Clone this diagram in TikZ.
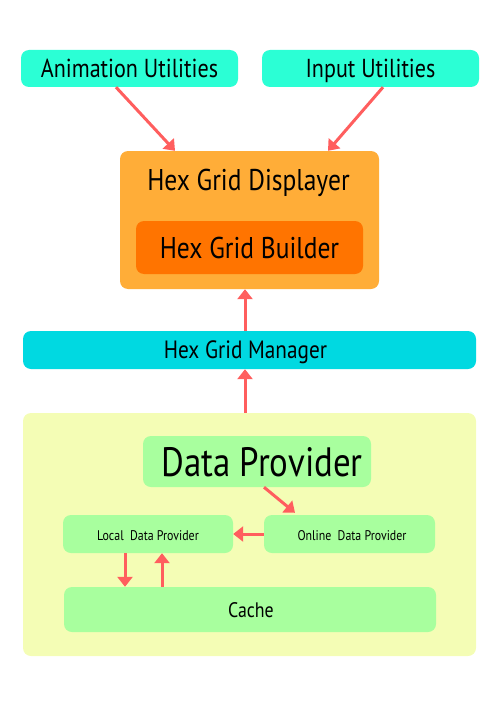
\documentclass[tikz,border=0pt]{standalone}
\usepackage{fontspec}
\setmainfont{PT Sans}[FakeStretch=0.85]
\usetikzlibrary{arrows.meta,calc}
\definecolor{turq}{HTML}{2BFFD5}
\definecolor{orangeL}{HTML}{FFAD38}
\definecolor{orangeD}{HTML}{FF7400}
\definecolor{cyanM}{HTML}{00D9E1}
\definecolor{yellowBg}{HTML}{F4FDB5}
\definecolor{greenBox}{HTML}{A8FF9E}
\definecolor{arrowRed}{HTML}{FF5E5E}
\tikzset{
  box/.style={rounded corners=8pt, inner sep=0pt, draw=none, align=center},
  conn/.style={draw=arrowRed, line width=3pt, -{Triangle[width=15pt,length=10pt]}},
  fs/.style={font=\fontsize{#1}{#1}\selectfont, text height=0.7*#1 pt, text depth=0pt},
}
\begin{document}
\begin{tikzpicture}[x=1pt,y=-1pt]
\useasboundingbox (0,0) rectangle (500,706);
% top utilities
\node[box, fill=turq, minimum width=217pt, minimum height=37pt, fs=26] (anim) at (129.5,68.5) {Animation Utilities};
\node[box, fill=turq, minimum width=217pt, minimum height=37pt, fs=26] (input) at (370.5,68.5) {Input Utilities};
% displayer
\node[box, fill=orangeL, minimum width=259pt, minimum height=138pt] (disp) at (249.5,220) {};
\node[fs=30, inner sep=0pt] (dispt) at (248.5,179.5) {Hex Grid Displayer};
\node[box, fill=orangeD, minimum width=227pt, minimum height=53pt, fs=30] (build) at (249.5,247.5) {Hex Grid Builder};
% manager
\node[box, fill=cyanM, minimum width=453pt, minimum height=38pt] (mgr) at (249.5,350) {};
\node[fs=25, inner sep=0pt] (mgrt) at (245.5,350) {Hex Grid Manager};
% data area
\node[box, fill=yellowBg, minimum width=453pt, minimum height=243pt] (dpbg) at (249.5,534.5) {};
\node[box, fill=greenBox, minimum width=228pt, minimum height=51pt] (dp) at (257,461.5) {};
\node[fs=41, inner sep=0pt] (dpt) at (262,461.7) {Data Provider};
\node[box, fill=greenBox, minimum width=170pt, minimum height=38pt] (local) at (148,534) {};
\node[fs=14, inner sep=0pt] (localt) at (148,535.5) {Local\ \ Data Provider};
\node[box, fill=greenBox, minimum width=171pt, minimum height=38pt] (online) at (349.5,534) {};
\node[fs=14, inner sep=0pt] (onlinet) at (352,535.5) {Online\ \ Data Provider};
\node[box, fill=greenBox, minimum width=372pt, minimum height=45pt] (cache) at (250,609.5) {};
\node[fs=21, inner sep=0pt] (cachet) at (251,610) {Cache};
% connectors
\draw[conn] ([xshift=-13.5pt]anim.south) -- ([xshift=-74.5pt]disp.north);
\draw[conn] ([xshift=12.5pt]input.south) -- ([xshift=78.5pt]disp.north);
\draw[conn] ([xshift=-4.5pt]mgr.north) -- ([xshift=-4.5pt]disp.south);
\draw[conn] ([xshift=-4.5pt]dpbg.north) -- ([xshift=-4.5pt]mgr.south);
\draw[conn] ([xshift=7pt]dp.south) -- ([xshift=-54.5pt,yshift=2pt]online.north);
\draw[conn] (online.west) -- (local.east);
\draw[conn] ([xshift=-23pt]local.south) -- ([xshift=-125pt]cache.north);
\draw[conn] ([xshift=-88pt]cache.north) -- ([xshift=14pt]local.south);
\end{tikzpicture}
\end{document}
